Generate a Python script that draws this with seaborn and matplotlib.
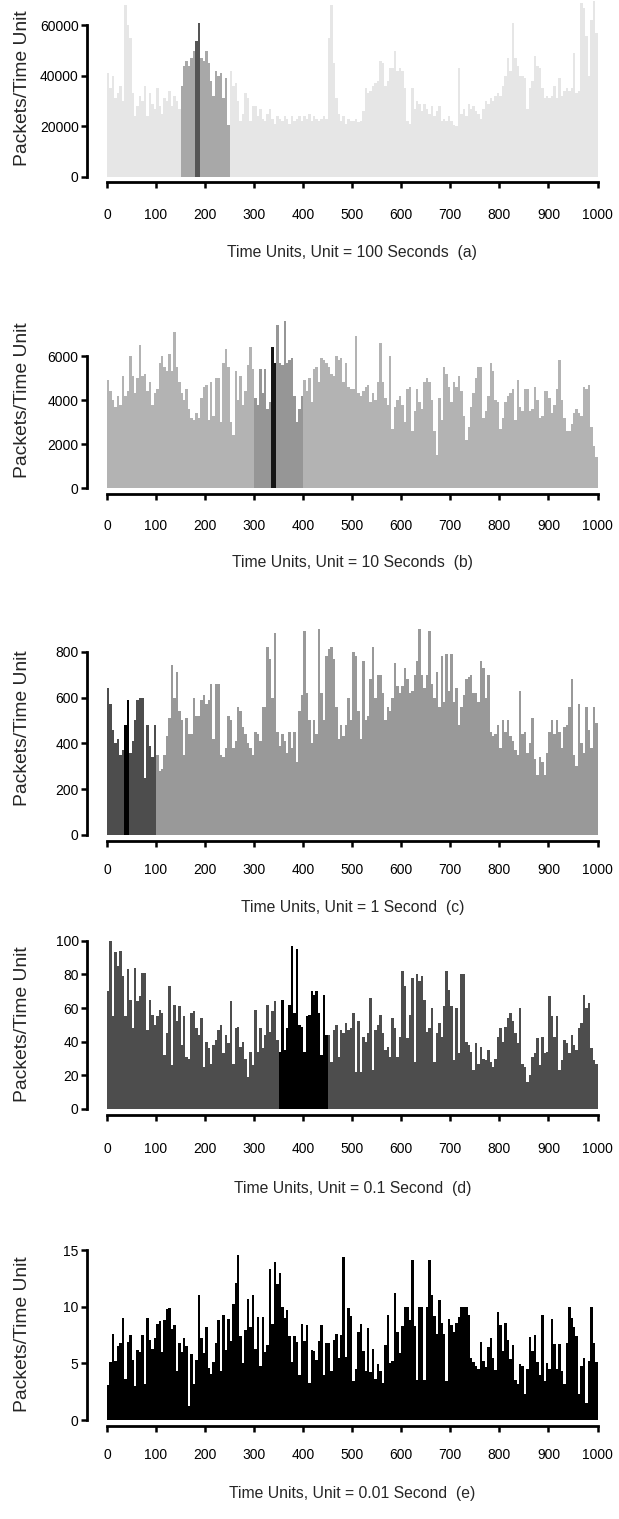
import numpy as np
import pandas as pd
import matplotlib
matplotlib.use("Agg")
import matplotlib.pyplot as plt
import seaborn as sns

# ---------------- data (one value per 5 time units) ----------------
BIN = 5
x_ticks = [0, 100, 200, 300, 400, 500, 600, 700, 800, 900, 1000]

a_values = [41000, 35000, 40000, 31000, 33000, 36000, 30000, 68000, 60000, 55000,
            33000, 24000, 28000, 32000, 30000, 36000, 24000, 33000, 29000, 27000,
            35000, 28000, 25000, 31000, 30000, 34000, 28000, 32000, 30000, 27000,
            36000, 44000, 46000, 44000, 47000, 50000, 54000, 61000, 47000, 46000,
            50000, 45000, 38000, 32000, 42000, 40000, 41000, 31000, 39000, 20500,
            42000, 36000, 37000, 30000, 22000, 25000, 33000, 31000, 22000, 28000,
            28000, 24000, 27000, 23000, 22000, 25000, 27000, 23000, 21000, 24000,
            23000, 22000, 24000, 23000, 21000, 24000, 22000, 23000, 24000, 22000,
            24000, 23000, 25000, 22000, 24000, 23000, 22000, 23000, 24000, 23000,
            55000, 68000, 45000, 31000, 25000, 22000, 24000, 21000, 23000, 22000,
            22000, 23000, 21500, 22000, 26000, 35000, 33000, 34000, 36000, 37000,
            38000, 46000, 45000, 36000, 38000, 43000, 43000, 50000, 42000, 43000,
            42000, 35000, 22000, 21000, 35000, 27000, 30000, 29000, 26000, 29000,
            27000, 25000, 28000, 24000, 26000, 28000, 22000, 23000, 22000, 24000,
            22000, 20500, 20000, 43000, 25000, 27000, 24000, 29000, 27000, 28000,
            26000, 25000, 23000, 27000, 30000, 29000, 31000, 30000, 32000, 33000,
            32000, 36000, 40000, 47000, 42000, 61000, 47000, 44000, 40000, 40000,
            39000, 27000, 35000, 38000, 48000, 44000, 43000, 35000, 31000, 32000,
            31000, 32000, 36000, 31000, 39000, 32000, 34000, 35000, 34000, 35000,
            49000, 33000, 34000, 69000, 67000, 56000, 40000, 62000, 70000, 57000]

b_values = [4900, 4400, 4000, 3700, 4200, 3800, 5100, 4200, 4400, 6000,
            5100, 4300, 5000, 6500, 5100, 5200, 4400, 4800, 3800, 4300,
            4500, 5700, 6000, 5500, 5300, 6100, 5300, 7100, 5500, 4800,
            4300, 4000, 4500, 3600, 3200, 3100, 3400, 3200, 4100, 4600,
            4700, 3100, 4800, 3300, 5000, 5000, 3000, 5700, 6300, 5500,
            3000, 2400, 5300, 4000, 5100, 3800, 4400, 5600, 6400, 5400,
            4100, 3800, 5400, 4300, 5400, 3600, 3900, 6400, 5700, 7400,
            5700, 5600, 7600, 5700, 5800, 5900, 4200, 3000, 3600, 4200,
            4900, 4400, 5000, 3900, 5400, 5500, 4800, 5900, 5800, 5700,
            5500, 5200, 5100, 6000, 5800, 5900, 4800, 5700, 4600, 4500,
            4500, 6900, 4300, 4200, 4400, 4600, 4700, 3900, 4300, 4000,
            4800, 6600, 4800, 4100, 3800, 6000, 2700, 3700, 4000, 4200,
            3800, 3000, 4500, 4600, 2600, 3500, 4500, 3900, 3600, 4800,
            5000, 4800, 4000, 2600, 1500, 4100, 3100, 5500, 5200, 4600,
            3900, 4800, 4600, 5100, 4400, 3300, 2200, 2800, 3700, 4300,
            5000, 5500, 5500, 3200, 3500, 4200, 5700, 5300, 4000, 3900,
            2700, 3200, 3900, 4200, 4300, 4500, 3100, 4900, 3700, 3500,
            4500, 4500, 3500, 3600, 4600, 4000, 3200, 3300, 4400, 4400,
            4100, 3400, 3800, 4500, 5800, 4000, 3200, 2600, 2600, 2900,
            3400, 3600, 3400, 3300, 4600, 4500, 4700, 2800, 1900, 1400]

c_values = [640, 570, 460, 400, 420, 350, 370, 480, 590, 360,
            410, 500, 590, 600, 600, 250, 480, 390, 340, 480,
            350, 280, 290, 350, 430, 510, 740, 600, 710, 540,
            500, 350, 510, 440, 440, 600, 520, 520, 590, 610,
            570, 590, 660, 420, 660, 660, 350, 340, 380, 520,
            500, 380, 410, 560, 540, 470, 440, 400, 380, 350,
            450, 440, 410, 560, 560, 820, 770, 600, 880, 450,
            390, 440, 410, 360, 450, 380, 450, 320, 540, 610,
            890, 620, 500, 400, 500, 440, 900, 620, 500, 780,
            810, 820, 770, 560, 420, 480, 430, 480, 600, 500,
            800, 780, 540, 420, 760, 500, 520, 680, 820, 600,
            700, 700, 620, 500, 560, 540, 600, 750, 650, 620,
            650, 730, 680, 620, 630, 700, 760, 900, 700, 640,
            700, 890, 660, 600, 710, 560, 780, 580, 790, 630,
            790, 580, 640, 480, 560, 610, 680, 690, 700, 620,
            620, 580, 760, 730, 600, 700, 450, 430, 440, 480,
            380, 500, 450, 500, 430, 410, 370, 350, 630, 440,
            450, 360, 400, 510, 330, 260, 340, 320, 260, 360,
            450, 500, 440, 500, 450, 380, 470, 480, 560, 680,
            350, 300, 570, 400, 360, 560, 460, 380, 560, 490]

d_values = [70, 100, 55, 93, 85, 94, 79, 55, 83, 65,
            48, 84, 64, 67, 81, 81, 47, 65, 56, 50,
            55, 59, 57, 32, 45, 73, 26, 62, 52, 61,
            38, 55, 31, 30, 57, 58, 48, 44, 54, 25,
            40, 36, 27, 38, 41, 47, 50, 33, 44, 39,
            64, 27, 48, 49, 37, 40, 30, 19, 34, 26,
            59, 34, 48, 36, 44, 62, 46, 58, 64, 41,
            34, 65, 35, 48, 62, 97, 57, 95, 50, 49,
            34, 55, 56, 70, 68, 70, 57, 32, 68, 44,
            44, 28, 47, 50, 31, 47, 45, 51, 47, 48,
            57, 22, 52, 22, 43, 40, 45, 66, 23, 47,
            50, 56, 45, 35, 37, 31, 54, 48, 31, 43,
            82, 73, 42, 56, 78, 28, 80, 76, 79, 65,
            46, 48, 60, 28, 45, 51, 43, 61, 82, 71,
            61, 29, 60, 33, 80, 80, 40, 38, 34, 23,
            39, 27, 37, 30, 29, 35, 28, 25, 30, 43,
            48, 40, 49, 54, 57, 52, 45, 39, 60, 27,
            25, 16, 20, 31, 33, 42, 26, 43, 33, 34,
            67, 55, 43, 55, 23, 29, 41, 39, 33, 44,
            38, 35, 48, 51, 68, 60, 63, 36, 29, 27]

e_values = [3.1, 5.1, 7.6, 5.2, 6.5, 6.8, 9.0, 3.6, 6.9, 7.5,
            5.3, 3.0, 6.2, 6.0, 7.5, 3.2, 9.0, 7.1, 6.3, 7.2,
            8.5, 8.7, 6.0, 8.8, 9.8, 9.9, 8.0, 8.4, 4.3, 6.8,
            6.0, 7.2, 6.5, 1.2, 5.8, 3.2, 5.3, 11.0, 7.2, 5.9,
            8.2, 4.6, 4.1, 5.1, 6.8, 8.8, 4.3, 9.3, 6.2, 8.9,
            7.0, 10.2, 12.1, 14.6, 7.4, 5.0, 7.9, 10.7, 8.2, 11.0,
            6.3, 9.1, 4.8, 9.1, 6.0, 6.6, 13.3, 8.5, 13.9, 12.0,
            13.0, 10.0, 9.0, 9.7, 7.4, 5.1, 7.4, 6.9, 4.0, 8.5,
            7.0, 8.4, 3.3, 6.2, 6.1, 5.3, 7.0, 8.4, 4.0, 6.8,
            6.8, 4.3, 7.1, 7.6, 5.5, 7.5, 14.4, 5.6, 9.9, 9.2,
            3.4, 4.5, 7.8, 8.5, 6.1, 4.3, 8.1, 4.2, 6.3, 3.6,
            4.9, 4.3, 3.3, 6.6, 9.3, 5.0, 5.2, 11.2, 7.8, 5.9,
            8.3, 10.0, 10.0, 8.8, 14.1, 8.3, 3.5, 10.0, 10.0, 3.5,
            10.0, 14.1, 11.0, 9.2, 7.6, 10.6, 8.6, 7.6, 3.4, 8.9,
            8.4, 7.8, 8.6, 9.1, 10.0, 10.0, 10.0, 9.3, 5.5, 5.1,
            4.8, 4.5, 6.9, 5.2, 4.7, 6.4, 7.2, 5.5, 4.4, 9.5,
            8.4, 6.1, 8.6, 7.1, 5.4, 6.6, 3.5, 3.2, 4.9, 4.8,
            2.3, 4.5, 7.3, 6.1, 7.5, 5.1, 4.0, 9.3, 3.4, 5.0,
            4.5, 8.9, 6.7, 4.5, 6.7, 4.3, 3.2, 6.8, 10.0, 9.0,
            8.2, 7.4, 2.3, 4.8, 5.5, 1.5, 5.2, 10.0, 6.8, 5.1]

a_yticks = [0, 20000, 40000, 60000]
b_yticks = [0, 2000, 4000, 6000]
c_yticks = [0, 200, 400, 600, 800]
d_yticks = [0, 20, 40, 60, 80, 100]
e_yticks = [0, 5, 10, 15]

x_labels = ["Time Units, Unit = 100 Seconds  (a)",
            "Time Units, Unit = 10 Seconds  (b)",
            "Time Units, Unit = 1 Second  (c)",
            "Time Units, Unit = 0.1 Second  (d)",
            "Time Units, Unit = 0.01 Second  (e)"]
y_label = "Packets/Time Unit"

# highlighted ranges (zoom windows) per panel
a_zoom, a_sub = (150, 250), (180, 190)
b_zoom, b_sub = (300, 400), (335, 345)
c_zoom, c_sub = (0, 100), (35, 45)
d_zoom, d_sub = (350, 450), None
e_zoom, e_sub = None, None

# ---------------- layout / style ----------------
sns.set_style("ticks")
plt.rcParams["font.family"] = ["Liberation Sans", "DejaVu Sans"]

W, H = 619, 1519
X0, X1 = 107, 597.5

panels = [
    dict(values=a_values, zoom=a_zoom, sub=a_sub, yticks=a_yticks, ymax=69800,
         base=176.5, ppu=151 / 60000, colors=("#e6e6e6", "#a8a8a8", "#555555"),
         tpad=15, lpad=16),
    dict(values=b_values, zoom=b_zoom, sub=b_sub, yticks=b_yticks, ymax=8000,
         base=488.3, ppu=132.3 / 6000, colors=("#b3b3b3", "#969696", "#151515"),
         tpad=14, lpad=16),
    dict(values=c_values, zoom=c_zoom, sub=c_sub, yticks=c_yticks, ymax=930,
         base=835, ppu=183.3 / 800, colors=("#999999", "#4d4d4d", "#000000"),
         tpad=12.5, lpad=16),
    dict(values=d_values, zoom=d_zoom, sub=d_sub, yticks=d_yticks, ymax=101,
         base=1109, ppu=168.3 / 100, colors=("#4d4d4d", "#000000", "#000000"),
         tpad=16, lpad=17.5),
    dict(values=e_values, zoom=e_zoom, sub=e_sub, yticks=e_yticks, ymax=15.2,
         base=1420, ppu=170 / 15, colors=("#000000", "#000000", "#000000"),
         tpad=12.5, lpad=17),
]

fig = plt.figure(figsize=(W / 100, H / 100), dpi=100)

for p, xl in zip(panels, x_labels):
    h_px = p["ymax"] * p["ppu"]
    ax = fig.add_axes([X0 / W, (H - p["base"]) / H, (X1 - X0) / W, h_px / H])
    vals = np.asarray(p["values"], dtype=float)
    starts = np.arange(len(vals)) * BIN
    cat = np.array(["base"] * len(vals), dtype=object)
    if p["zoom"] is not None:
        cat[(starts >= p["zoom"][0]) & (starts < p["zoom"][1])] = "zoom"
    if p["sub"] is not None:
        cat[(starts >= p["sub"][0]) & (starts < p["sub"][1])] = "sub"
    df = pd.DataFrame({"t": starts + BIN / 2, "v": vals, "c": cat})
    pal = {"base": p["colors"][0], "zoom": p["colors"][1], "sub": p["colors"][2]}
    sns.barplot(data=df, x="t", y="v", hue="c", palette=pal, native_scale=True,
                width=1, dodge=False, saturation=1, errorbar=None, legend=False,
                linewidth=0, antialiased=False, orient="x", ax=ax)
    ax.set_xlim(0, 1000)
    ax.set_ylim(0, p["ymax"])
    ax.set_xticks(x_ticks)
    ax.set_xticklabels([str(t) for t in x_ticks])
    ax.set_yticks(p["yticks"])
    ax.set_yticklabels([str(t) for t in p["yticks"]])
    sns.despine(ax=ax, offset={"left": 14.4, "bottom": 4}, trim=True)
    for s in ("left", "bottom"):
        ax.spines[s].set_linewidth(2)
        ax.spines[s].set_color("black")
    ax.tick_params(axis="both", direction="out", length=4, width=1.8,
                   color="black", labelcolor="black", labelsize=10)
    ax.tick_params(axis="x", pad=p["tpad"])
    ax.tick_params(axis="y", pad=2)
    ax.set_xlabel(xl, fontsize=11.3, labelpad=p["lpad"])
    ax.set_ylabel(y_label, fontsize=13.9)
    ax.yaxis.set_label_coords((31 - X0) / (X1 - X0), 0.5)
    ax.grid(False)
    ax.set_facecolor("none")

fig.savefig("out.png", dpi=100)
